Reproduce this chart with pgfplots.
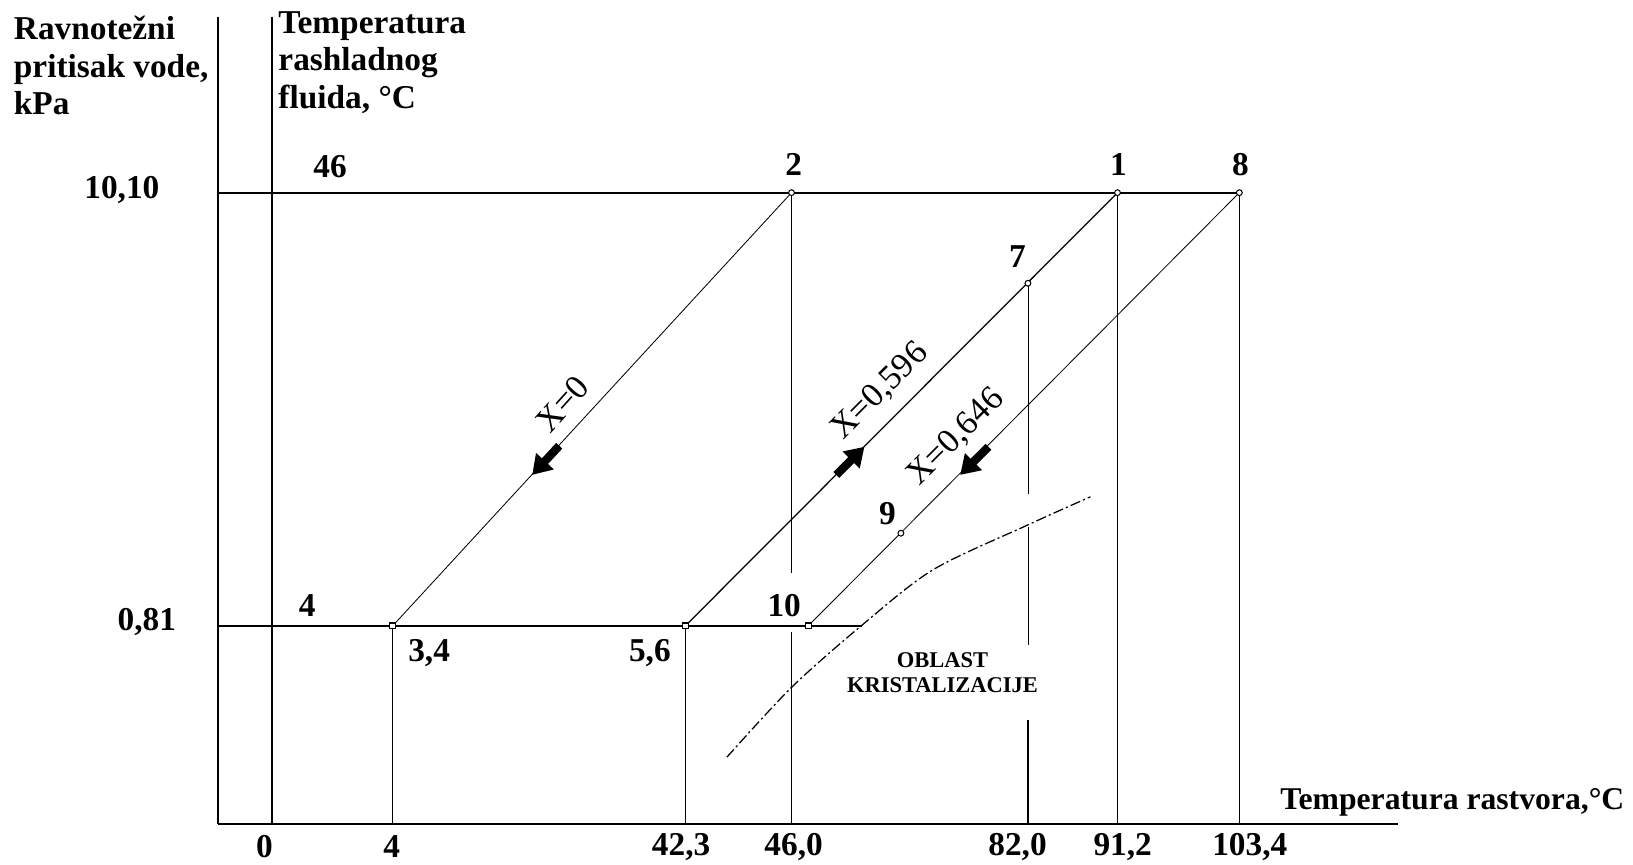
\documentclass[border=0pt]{standalone}
\usepackage{fontspec}
\setmainfont{Liberation Serif}
\usepackage{pgfplots}
\pgfplotsset{compat=1.18}
\usetikzlibrary{arrows.meta}
\tikzset{
  lbl/.style={font=\bfseries\fontsize{16}{18}\selectfont, inner sep=0pt},
  xl/.style={font=\fontsize{16.5}{18}\selectfont, inner sep=0pt},
  sm/.style={font=\bfseries\fontsize{10.8}{12}\selectfont, inner sep=0pt},
}
\begin{document}
\begin{tikzpicture}
\begin{axis}[
  width=784pt, height=415pt, scale only axis,
  xmin=0, xmax=1568, ymin=0, ymax=830, y dir=reverse,
  hide axis, clip=false,
  cycle list={{black, solid, line width=0.6pt, mark=none}},
]
% frame lines
\addplot[black, line width=0.8pt] coordinates {(209,16) (209,791)};
\addplot[black, line width=0.7pt] coordinates {(261,16) (261,791)};
\addplot[black, line width=0.9pt] coordinates {(209,791) (1342,791)};
\addplot[black, line width=0.8pt] coordinates {(209,185) (1190,185)};
\addplot[black, line width=0.8pt] coordinates {(209,601) (828,601)};
% concentration lines
\addplot coordinates {(760,185) (377,601)};
\addplot coordinates {(1073,185) (658,601)};
\addplot coordinates {(1190,185) (776,601)};
% verticals
\addplot coordinates {(377,601) (377,791)};
\addplot coordinates {(658,601) (658,791)};
\addplot coordinates {(760,185) (760,550)};
\addplot coordinates {(760,607) (760,791)};
\addplot coordinates {(987,272) (987,474)};
\addplot coordinates {(987,506) (987,619)};
\addplot coordinates {(987,691) (987,791)};
\addplot coordinates {(1073,185) (1073,791)};
\addplot coordinates {(1190,185) (1190,791)};
% crystallization boundary
\addplot[black, smooth, line width=0.6pt, dash pattern=on 5pt off 1.5pt on 1pt off 1.5pt]
  coordinates {(698,727) (760,660) (828,600) (896,547) (987,504) (1047,477)};
% arrows
\addplot[black, line width=4pt, -{Triangle[width=11pt,length=9pt]}] coordinates {(537,428) (511,456)};
\addplot[black, line width=4pt, -{Triangle[width=11pt,length=9pt]}] coordinates {(803,456) (830,429)};
\addplot[black, line width=4pt, -{Triangle[width=11pt,length=9pt]}] coordinates {(949,429) (922,456)};
% state points
\addplot[only marks, mark=*, mark size=1.4pt, mark options={fill=white, draw=black, line width=0.5pt}]
  coordinates {(760,185) (1073,185) (1190,185) (987,272) (865,512)};
\addplot[only marks, mark=square*, mark size=1.4pt, mark options={fill=white, draw=black, line width=0.5pt}]
  coordinates {(377,601) (658,601) (776,601)};
% titles
\node[lbl, anchor=base west] at (axis cs:13,38) {Ravnotežni};
\node[lbl, anchor=base west] at (axis cs:13,74) {pritisak vode,};
\node[lbl, anchor=base west] at (axis cs:13,110) {kPa};
\node[lbl, anchor=base west] at (axis cs:267,32) {Temperatura};
\node[lbl, anchor=base west] at (axis cs:267,68) {rashladnog};
\node[lbl, anchor=base west] at (axis cs:267,104) {fluida, °C};
\node[lbl, font=\bfseries\fontsize{15.2}{17}\selectfont, anchor=base east] at (axis cs:1560,777) {Temperatura rastvora,°C};
% value labels
\node[lbl] at (axis cs:317,160) {46};
\node[lbl] at (axis cs:117,182) {10,10};
\node[lbl] at (axis cs:141,597) {0,81};
\node[lbl] at (axis cs:762,158) {2};
\node[lbl] at (axis cs:1074,158) {1};
\node[lbl] at (axis cs:1191,158) {8};
\node[lbl] at (axis cs:977,246) {7};
\node[lbl] at (axis cs:295,581) {4};
\node[lbl] at (axis cs:412,627) {3,4};
\node[lbl] at (axis cs:624,627) {5,6};
\node[lbl] at (axis cs:753,581) {10};
\node[lbl] at (axis cs:852,493) {9};
\node[sm] at (axis cs:905,634) {OBLAST};
\node[sm] at (axis cs:905,658) {KRISTALIZACIJE};
% rotated labels
\node[xl, rotate=48] at (axis cs:540,388) {X=0};
\node[xl, rotate=45] at (axis cs:845,376) {X=0,596};
\node[xl, rotate=45] at (axis cs:918,420) {X=0,646};
% bottom temperature labels
\node[lbl] at (axis cs:254,813) {0};
\node[lbl] at (axis cs:376,813) {4};
\node[lbl] at (axis cs:654,813) {42,3};
\node[lbl] at (axis cs:762,813) {46,0};
\node[lbl] at (axis cs:977,813) {82,0};
\node[lbl] at (axis cs:1078,813) {91,2};
\node[lbl] at (axis cs:1200,813) {103,4};
\end{axis}
\pgfresetboundingbox
\path (current axis.south west) rectangle (current axis.north east);
\end{tikzpicture}
\end{document}
